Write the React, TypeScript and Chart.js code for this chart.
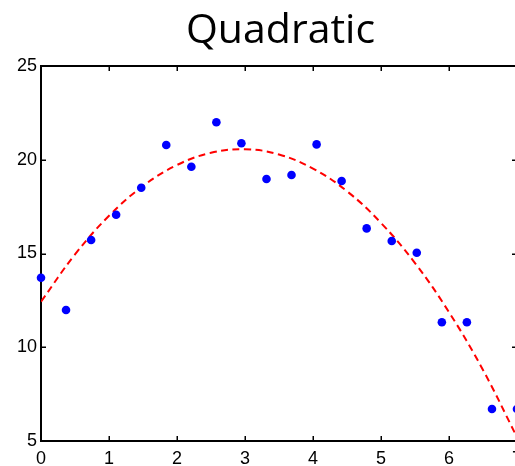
import React, { useEffect, useRef } from "react";
import { Chart, registerables } from "chart.js";

Chart.register(...registerables);

const titleText = "Quadratic";
const sampleX = [0, 0.368, 0.737, 1.105, 1.474, 1.842, 2.211, 2.579, 2.947, 3.316, 3.684, 4.053, 4.421, 4.789, 5.158, 5.526, 5.895, 6.263, 6.632, 7.0];
const sampleY = [13.71, 11.99, 15.72, 17.07, 18.51, 20.79, 19.63, 22.0, 20.88, 18.97, 19.19, 20.82, 18.87, 16.34, 15.67, 15.04, 11.33, 11.33, 6.71, 6.71];
const fitX = [0, 0.5, 1, 1.5, 2, 2.5, 3, 3.5, 4, 4.5, 5, 5.5, 6, 6.5, 7];
const fitY = [12.43, 14.95, 17.01, 18.6, 19.72, 20.37, 20.56, 20.28, 19.53, 18.32, 16.63, 14.49, 11.87, 8.79, 5.2];
const xRange = [0, 7];
const yRange = [5, 25];

const framePlugin = {
  id: "frame",
  beforeDatasetsDraw(chart: any) {
    const { ctx, chartArea } = chart;
    const { left, right, top, bottom } = chartArea;
    const xs = chart.scales.x;
    const ys = chart.scales.y;
    ctx.save();
    ctx.strokeStyle = "#000";
    ctx.lineWidth = 2;
    ctx.strokeRect(left, top, right - left, bottom - top);
    ctx.lineWidth = 1.5;
    ctx.beginPath();
    xs.ticks.forEach((t: any) => {
      const px = Math.round(xs.getPixelForValue(t.value)) + 0.25;
      ctx.moveTo(px, bottom);
      ctx.lineTo(px, bottom - 5);
      ctx.moveTo(px, top);
      ctx.lineTo(px, top + 5);
    });
    ys.ticks.forEach((t: any) => {
      const py = Math.round(ys.getPixelForValue(t.value)) + 0.25;
      ctx.moveTo(left, py);
      ctx.lineTo(left + 5, py);
      ctx.moveTo(right, py);
      ctx.lineTo(right - 5, py);
    });
    ctx.stroke();
    ctx.restore();
  },
  afterDraw(chart: any) {
    const { ctx, chartArea } = chart;
    ctx.save();
    ctx.fillStyle = "#000";
    ctx.font = "41px 'Open Sans'";
    ctx.textAlign = "center";
    ctx.textBaseline = "alphabetic";
    ctx.fillText(titleText, (chartArea.left + chartArea.right) / 2 + 1.5, 43);
    ctx.restore();
  },
};

export default function App() {
  const ref = useRef<HTMLCanvasElement>(null);
  useEffect(() => {
    if (!ref.current) return;
    const chart = new Chart(ref.current, {
      type: "scatter",
      data: {
        datasets: [
          {
            type: "line",
            data: fitX.map((x, i) => ({ x, y: fitY[i] })),
            borderColor: "#ff0000",
            borderWidth: 2,
            borderDash: [7, 4.5],
            pointRadius: 0,
            fill: false,
            tension: 0.4,
            order: 2,
          } as any,
          {
            data: sampleX.map((x, i) => ({ x, y: sampleY[i] })),
            backgroundColor: "#0000ff",
            borderColor: "#0000ff",
            borderWidth: 0,
            pointRadius: 4.3,
            clip: false,
            order: 1,
          } as any,
        ],
      },
      options: {
        animation: false,
        responsive: false,
        layout: { padding: { top: 66, right: 13, bottom: 0, left: 0 } },
        plugins: { legend: { display: false }, tooltip: { enabled: false }, title: { display: false } },
        scales: {
          x: {
            type: "linear",
            min: xRange[0],
            max: xRange[1],
            grid: { display: false, drawTicks: false },
            border: { display: false },
            ticks: { stepSize: 1, padding: 7.5, color: "#000", font: { family: "'Liberation Sans'", size: 18 }, maxRotation: 0 },
            afterFit: (s: any) => {
              s.height = 25;
              s.paddingLeft = 0;
              s.paddingRight = 0;
            },
          },
          y: {
            type: "linear",
            min: yRange[0],
            max: yRange[1],
            grid: { display: false, drawTicks: false },
            border: { display: false },
            ticks: { stepSize: 5, padding: 4, color: "#000", font: { family: "'Liberation Sans'", size: 18 } },
            afterFit: (s: any) => {
              s.width = 41;
              s.paddingTop = 0;
              s.paddingBottom = 0;
            },
          },
        },
      },
      plugins: [framePlugin],
    });
    return () => chart.destroy();
  }, []);
  return (
    <div style={{ position: "absolute", left: 0, top: 0, width: 515, height: 466, overflow: "hidden", background: "#fff" }}>
      <canvas ref={ref} width={530} height={466} style={{ display: "block" }} />
    </div>
  );
}
